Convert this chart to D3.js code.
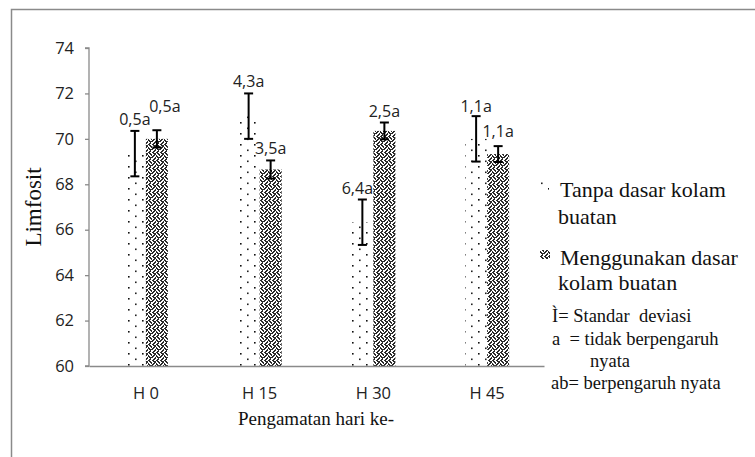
<!DOCTYPE html>
<html>
<head>
<meta charset="utf-8">
<script src="https://cdn.jsdelivr.net/npm/d3@7/dist/d3.min.js"></script>
<style>
  html, body { margin: 0; padding: 0; background: #fff; }
  svg { display: block; }
</style>
</head>
<body>
<svg id="chart" width="755" height="457"></svg>
<script>
// ---- data ----
const categories = ["H 0", "H 15", "H 30", "H 45"];
const seriesNames = ["Tanpa dasar kolam buatan", "Menggunakan dasar kolam buatan"];
const tanpaValues = [69.35, 71.0, 66.33, 70.0];
const tanpaSD = [1.0, 1.0, 1.0, 1.0];
const tanpaLabels = ["0,5a", "4,3a", "6,4a", "1,1a"];
const menggunakanValues = [70.0, 68.65, 70.35, 69.33];
const menggunakanSD = [0.38, 0.4, 0.37, 0.35];
const menggunakanLabels = ["0,5a", "3,5a", "2,5a", "1,1a"];
const yTicks = [60, 62, 64, 66, 68, 70, 72, 74];
const notes = ["\u00CC= Standar\u00A0 deviasi", "a\u00A0 = tidak berpengaruh", "nyata", "ab= berpengaruh nyata"];

// ---- layout ----
const svg = d3.select("#chart");
const plot = { left: 89, right: 544, top: 48, bottom: 366 };
const labelNudge = [[[0, 0], [8, -12]], [[0, 0], [0, 0]], [[-5, 0], [0, 0]], [[0, 2], [0, -3]]];
const sans = "'Open Sans', sans-serif";
const serif = "'Liberation Serif', 'Times New Roman', serif";

const defs = svg.append("defs");
// sparse staggered dots pattern
const pDots = defs.append("pattern").attr("id", "dots").attr("patternUnits", "userSpaceOnUse")
  .attr("width", 14).attr("height", 11);
pDots.append("rect").attr("width", 14).attr("height", 11).attr("fill", "#fff");
pDots.append("rect").attr("x", 2).attr("y", 1).attr("width", 1.6).attr("height", 1.6).attr("fill", "#111");
pDots.append("rect").attr("x", 9).attr("y", 6.5).attr("width", 1.6).attr("height", 1.6).attr("fill", "#222");

// weave pattern (bitmap)
const weave = [
  "XX..XX..",
  ".XXX.XX.",
  "..XX..XX",
  ".XX.X..X",
  "XX..XX..",
  "X..X.XXX",
  "..XX..X.",
  ".XX..XX."
];
const pWeave = defs.append("pattern").attr("id", "weave").attr("patternUnits", "userSpaceOnUse")
  .attr("width", 8).attr("height", 8);
pWeave.append("rect").attr("width", 8).attr("height", 8).attr("fill", "#fff");
weave.forEach((row, r) => {
  row.split("").forEach((c, k) => {
    if (c === "X") pWeave.append("rect").attr("x", k).attr("y", r).attr("width", 1).attr("height", 1).attr("fill", "#2a2a2a");
  });
});

// frame
svg.append("path").attr("d", "M11.5,457 L11.5,9.5 L755,9.5").attr("fill", "none")
  .attr("stroke", "#8a8a8a").attr("stroke-width", 1.5);

// scales
const x = d3.scaleBand().domain(categories).range([plot.left, plot.right])
  .paddingInner(0.613).paddingOuter(0.3065);
const xs = d3.scaleBand().domain([0, 1]).range([0, x.bandwidth()]);
const y = d3.scaleLinear().domain([60, 74]).range([plot.bottom, plot.top]);

const series = [
  { values: tanpaValues, sd: tanpaSD, labels: tanpaLabels, fill: "url(#dots)" },
  { values: menggunakanValues, sd: menggunakanSD, labels: menggunakanLabels, fill: "url(#weave)" }
];

// bars
series.forEach((s, si) => {
  svg.append("g").selectAll("rect").data(categories).join("rect")
    .attr("x", d => x(d) + xs(si))
    .attr("width", xs.bandwidth())
    .attr("y", (d, i) => y(s.values[i]))
    .attr("height", (d, i) => y(60) - y(s.values[i]))
    .attr("fill", s.fill);
});

// axes
const yAxis = svg.append("g").attr("transform", `translate(${plot.left},0)`)
  .call(d3.axisLeft(y).tickValues(yTicks).tickSize(4).tickPadding(11).tickFormat(d3.format("d")));
yAxis.select(".domain").attr("stroke", "#8a8a8a").attr("stroke-width", 1.3).attr("d", `M-4,${plot.top}H0V${plot.bottom}H-4`);
yAxis.selectAll(".tick line").attr("stroke", "#8a8a8a").attr("stroke-width", 1.3);
yAxis.selectAll(".tick text").attr("font-family", sans).attr("font-size", "16.5px").attr("fill", "#222");

const xAxis = svg.append("g").attr("transform", `translate(0,${plot.bottom})`)
  .call(d3.axisBottom(x).tickSize(0).tickPadding(21));
xAxis.select(".domain").attr("stroke", "#8a8a8a").attr("stroke-width", 1.5);
xAxis.selectAll(".tick text").attr("font-family", sans).attr("font-size", "16.5px").attr("fill", "#222");

// error bars and labels
series.forEach((s, si) => {
  const g = svg.append("g");
  categories.forEach((c, i) => {
    const cx = x(c) + xs(si) + xs.bandwidth() / 2;
    const top = y(s.values[i] + s.sd[i]);
    const bot = y(s.values[i] - s.sd[i]);
    g.append("line").attr("x1", cx).attr("x2", cx).attr("y1", top).attr("y2", bot)
      .attr("stroke", "#000").attr("stroke-width", 2);
    [top, bot].forEach(yy => g.append("line").attr("x1", cx - 4.5).attr("x2", cx + 4.5)
      .attr("y1", yy).attr("y2", yy).attr("stroke", "#000").attr("stroke-width", 2));
    const nd = labelNudge[i][si];
    g.append("text").attr("x", cx + nd[0]).attr("y", top - 6 + nd[1])
      .attr("text-anchor", "middle").attr("font-family", sans)
      .attr("font-size", "16px").attr("fill", "#222").text(s.labels[i]);
  });
});

// axis titles
svg.append("text").attr("x", 316).attr("y", 425).attr("text-anchor", "middle")
  .attr("font-family", serif).attr("font-size", "19px").attr("fill", "#111").text("Pengamatan hari ke-");
svg.append("text").attr("transform", "translate(41,207) rotate(-90)").attr("text-anchor", "middle")
  .attr("font-family", serif).attr("font-size", "23px").attr("fill", "#111").text("Limfosit");

// legend
const leg = svg.append("g");
leg.append("rect").attr("x", 541).attr("y", 182).attr("width", 8).attr("height", 9).attr("fill", "url(#dots)");
leg.append("rect").attr("x", 540).attr("y", 250).attr("width", 10).attr("height", 9).attr("fill", "url(#weave)");
const legLines = [
  ["Tanpa dasar kolam", 560, 197],
  ["buatan", 558, 224],
  ["Menggunakan dasar", 560, 265],
  ["kolam buatan", 558, 290]
];
legLines.forEach(l => leg.append("text").attr("x", l[1]).attr("y", l[2])
  .attr("font-family", serif).attr("font-size", "22px").attr("fill", "#111").text(l[0]));
const noteX = [552, 552, 590, 551];
const noteY = [322, 345, 367, 389];
notes.forEach((t, i) => leg.append("text").attr("x", noteX[i]).attr("y", noteY[i])
  .attr("font-family", serif).attr("font-size", "18.5px").attr("fill", "#111").text(t));
</script>
</body>
</html>
